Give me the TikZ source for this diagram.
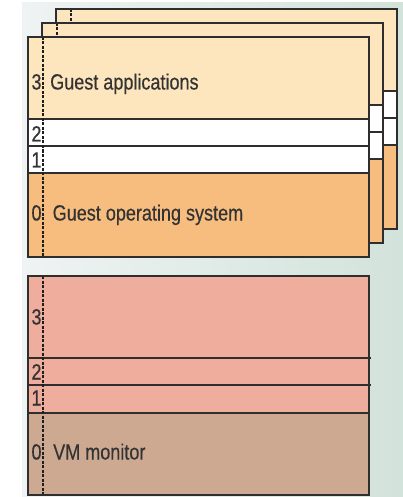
\documentclass[tikz,border=0pt]{standalone}
\usepackage{fontspec}
\setmainfont{Liberation Sans}[FakeStretch=0.82,FakeBold=0.4]
\definecolor{bgl}{HTML}{EFF3F3}
\definecolor{bgr}{HTML}{D2E3DB}
\definecolor{appc}{HTML}{FDE5BE}
\definecolor{osc}{HTML}{F6BD7F}
\definecolor{vmu}{HTML}{EEAD9D}
\definecolor{vmo}{HTML}{CEA992}
\definecolor{edge}{HTML}{2E2E2E}
\definecolor{dashc}{HTML}{1E1E1E}
\definecolor{txt}{HTML}{333333}
\begin{document}
\begin{tikzpicture}[x=1pt,y=-1pt,
  boxline/.style={draw=edge,line width=2pt},
  ringline/.style={draw=edge,line width=1.6pt},
  dashline/.style={draw=dashc,line width=1.6pt,dash pattern=on 3pt off 1.5pt},
  lbl/.style={font=\fontsize{22}{26}\selectfont,text=txt,inner sep=0pt}]
\useasboundingbox (0,0) rectangle (403,497);
\shade[left color=bgl,right color=bgr] (22,3) rectangle (403,497);
% stacked guest boxes (back to front)
\foreach \s in {28,14,0}{
  \begin{scope}[shift={(\s,-\s)}]
    \fill[appc] (28,37) rectangle (369,119);
    \fill[white] (28,119) rectangle (369,173);
    \fill[osc] (28,173) rectangle (369,257);
    \draw[ringline] (28,119) -- (369,119);
    \draw[ringline] (28,146) -- (369,146);
    \draw[ringline] (28,173) -- (369,173);
    \draw[dashline] (43,37) -- (43,257);
    \draw[boxline] (28,37) rectangle (369,257);
  \end{scope}
}
\node[lbl,anchor=base] (g3) at (36.5,89.5) {3};
\node[lbl,anchor=base] (g2) at (36.5,141.5) {2};
\node[lbl,anchor=base] (g1) at (36.5,167.5) {1};
\node[lbl,anchor=base] (g0) at (36.5,220.5) {0};
\node[lbl,anchor=base west] (gapp) at (50,89.5) {Guest applications};
\node[lbl,anchor=base west] (gos) at (52.5,220.5) {Guest operating system};
% VM monitor box
\fill[vmu] (28,276) rectangle (369,413);
\fill[vmo] (28,413) rectangle (369,495);
\draw[ringline] (28,358) -- (371,358);
\draw[ringline] (28,385) -- (371,385);
\draw[ringline] (28,413) -- (369,413);
\draw[dashline] (43,276) -- (43,495);
\draw[boxline] (28,276) rectangle (369,495);
\node[lbl,anchor=base] (m3) at (36.5,324.5) {3};
\node[lbl,anchor=base] (m2) at (36.5,379.5) {2};
\node[lbl,anchor=base] (m1) at (36.5,405.5) {1};
\node[lbl,anchor=base] (m0) at (36.5,459.5) {0};
\node[lbl,anchor=base west] (vmm) at (53,459.5) {VM monitor};
\end{tikzpicture}
\end{document}
